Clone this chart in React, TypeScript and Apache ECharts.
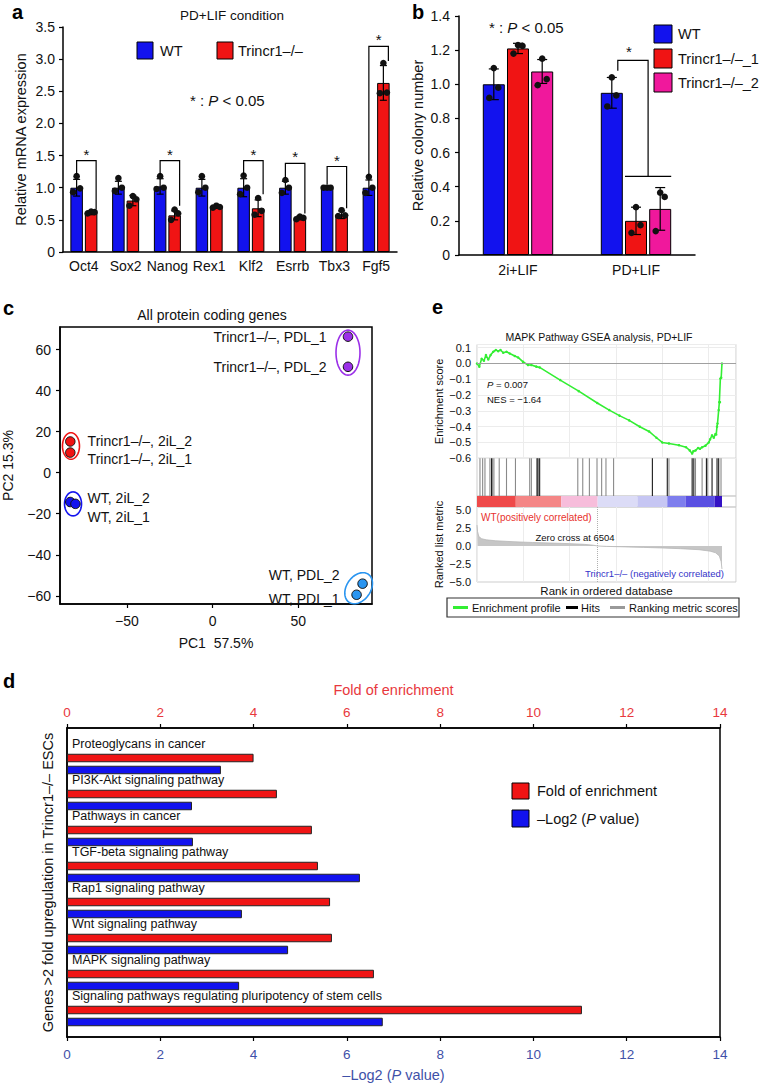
import React, { useEffect, useRef } from 'react';
import * as echarts from 'echarts';

const FONT = "'Liberation Sans', Arial, Helvetica, sans-serif";
const RED = '#f01414';
const BLUE = '#1212ee';
const PINK = '#f0189c';
const INK = '#111111';

// ---------- Panel a ----------
const genesA = ['Oct4', 'Sox2', 'Nanog', 'Rex1', 'Klf2', 'Esrrb', 'Tbx3', 'Fgf5'];
const wtMeanA = [1.0, 1.0, 1.02, 1.0, 1.0, 1.0, 1.0, 1.0];
const koMeanA = [0.61, 0.8, 0.57, 0.7, 0.68, 0.53, 0.58, 2.63];
const wtSdA = [0.13, 0.1, 0.12, 0.13, 0.14, 0.1, 0.01, 0.12];
const koSdA = [0.03, 0.08, 0.07, 0.02, 0.13, 0.03, 0.06, 0.27];
const wtDotsA = [[1.18, 0.99, 0.93], [1.15, 1.0, 0.95], [1.18, 1.0, 0.98], [1.18, 1.0, 0.93], [1.19, 1.0, 0.9], [1.12, 1.0, 0.92], [1.0, 1.0, 1.0], [1.17, 1.0, 0.92]];
const koDotsA = [[0.63, 0.62, 0.6], [0.87, 0.82, 0.72], [0.66, 0.6, 0.5], [0.72, 0.7, 0.69], [0.84, 0.64, 0.58], [0.55, 0.53, 0.51], [0.65, 0.57, 0.56], [2.94, 2.48, 2.47]];
const sigCatA = [0, 2, 4, 5, 6, 7];
const sigTopA = [1.42, 1.42, 1.42, 1.38, 1.33, 3.2];
const sigLeftA = [1.2, 1.2, 1.2, 1.15, 1.05, 1.18];
const sigRightA = [0.66, 0.72, 0.9, 0.6, 0.68, 2.97];

// ---------- Panel b ----------
const conditionsB = ['2i+LIF', 'PD+LIF'];
const wtB = [1.0, 0.95];
const ko1B = [1.21, 0.2];
const ko2B = [1.075, 0.27];
const wtSdB = [0.09, 0.09];
const ko1SdB = [0.03, 0.08];
const ko2SdB = [0.07, 0.125];
const wtDotsB = [[1.095, 0.98, 0.92], [1.04, 0.935, 0.87]];
const ko1DotsB = [[1.23, 1.225, 1.18], [0.28, 0.175, 0.13]];
const ko2DotsB = [[1.15, 1.03, 0.995], [0.365, 0.34, 0.14]];
const sigB = [[1, 1.14, 1.08, 0.46]];

// ---------- Panel c ----------
const pcaKoPdl = [[79, 66.3], [79, 51.6]];
const pcaKo2i = [[-83, 15.2], [-83, 9.8]];
const pcaWt2i = [[-83, -14.3], [-80, -15.2]];
const pcaWtPdl = [[87.5, -54.1], [84, -59.5]];
const pcaLabelText = ['Trincr1–/–, PDL_1', 'Trincr1–/–, PDL_2', 'Trincr1–/–, 2iL_2', 'Trincr1–/–, 2iL_1', 'WT, 2iL_2', 'WT, 2iL_1', 'WT, PDL_2', 'WT, PDL_1'];
const pcaLabelX = [66.5, 66.5, -72.9, -72.9, -72.9, -72.9, 74.1, 74.1];
const pcaLabelY = [66.3, 51.6, 15.2, 6.9, -12.3, -21.6, -50.1, -61.4];
const pcaLabelAlign = ['right', 'right', 'left', 'left', 'left', 'left', 'right', 'right'];
const ellipseCx = [79, -82.6, -81.4, 85.2];
const ellipseCy = [58.5, 13.0, -15.2, -56.3];
const ellipseColor = ['#9b30e8', RED, BLUE, '#2a95f0'];
const ellipseRx = [12, 8.5, 8.5, 17];
const ellipseRy = [22.5, 13.3, 12, 12];
const ellipseRot = [0, 0, 0, -55];

// ---------- Panel e ----------
const esRank = [0, 125, 251, 376, 484, 609, 735, 878, 1021, 1147, 1272, 1416, 1595, 1774, 2043, 2222, 2491, 2760, 2939, 3208, 3387, 4500, 5500, 6500, 7150, 7700, 8225, 8800, 9300, 9700, 10016, 10376, 10914, 11300, 11500, 11629, 11700, 11812, 11950, 12050, 12167, 12350, 12527, 12600, 12704, 12800, 12887, 12930, 12973, 13000, 13064, 13100, 13130, 13155, 13200, 13241];
const esVal = [0, -0.02, 0.03, 0.017, 0.053, 0.025, 0.053, 0.074, 0.085, 0.078, 0.085, 0.068, 0.074, 0.063, 0.047, 0.038, 0.01, -0.01, -0.01, -0.02, -0.025, -0.105, -0.175, -0.25, -0.295, -0.33, -0.36, -0.4, -0.43, -0.47, -0.5, -0.506, -0.517, -0.53, -0.55, -0.57, -0.555, -0.55, -0.535, -0.54, -0.53, -0.52, -0.5, -0.48, -0.454, -0.47, -0.447, -0.45, -0.4, -0.38, -0.295, -0.245, -0.245, -0.095, -0.09, 0];
const hitRank = [161, 305, 430, 699, 788, 842, 914, 1201, 1595, 2079, 2849, 2939, 3244, 3297, 3387, 5448, 5716, 6075, 6487, 6738, 6971, 7383, 9480, 10286, 10376, 11630, 11720, 11810, 12168, 12401, 12473, 12706, 12975, 13064, 13190];
const hitTone = [0, 0, 0, 0, 1, 0, 0, 0, 0, 0, 0, 0, 1, 1, 1, 0, 0, 0, 0, 0, 0, 0, 1, 1, 0, 1, 1, 0, 0, 1, 0, 1, 1, 1, 0];
const cbStart = [0, 2097, 4552, 6523, 8673, 10286, 11271, 12849];
const cbEnd = [2097, 4552, 6523, 8673, 10286, 11271, 12849, 13243];
const cbColor = ['#ef4a4a', '#f48686', '#f7bddb', '#dcdcf7', '#c6c6f3', '#7e7eed', '#5a50e2', '#3412c4'];
const metricRank = [0, 30, 100, 250, 500, 1000, 2000, 3000, 4000, 5000, 5800, 6300, 6504, 7000, 8000, 9000, 10000, 11000, 12000, 12600, 12900, 13100, 13200, 13243];
const metricVal = [2.9, 2.0, 1.3, 1.0, 0.85, 0.72, 0.58, 0.48, 0.4, 0.32, 0.22, 0.1, 0, -0.06, -0.13, -0.2, -0.28, -0.38, -0.52, -0.72, -0.95, -1.4, -2.2, -3.2];
const zeroCross = 6504;

// ---------- Panel d ----------
const pathways = ['Proteoglycans in cancer', 'PI3K-Akt signaling pathway', 'Pathways in cancer', 'TGF-beta signaling pathway', 'Rap1 signaling pathway', 'Wnt signaling pathway', 'MAPK signaling pathway', 'Signaling pathways regulating pluripotency of stem cells'];
const foldEnrichment = [4.0, 4.5, 5.25, 5.38, 5.64, 5.68, 6.58, 11.04];
const negLog2P = [3.3, 2.68, 2.7, 6.28, 3.75, 4.74, 3.69, 6.77];

// ---------- helpers ----------
const offsets = (n: number, w: number, gap: number) => (s: number) => -(n * w + (n - 1) * gap) / 2 + s * (w + gap) + w / 2;
const offA = offsets(2, 12.5, 2);
const offB = offsets(3, 22, 2.2);
const minus = (s: string) => s.replace('-', '−');

function errRenderer(off: (s: number) => number, cap: number) {
  return (params: any, api: any) => {
    const c = api.value(0), s = api.value(1), m = api.value(2), sd = api.value(3);
    const p = api.coord([c, m]);
    const x = p[0] + off(s);
    const yt = api.coord([c, m + sd])[1];
    const yb = api.coord([c, m - sd])[1];
    const st = { stroke: '#000', lineWidth: 1.2 };
    return {
      type: 'group',
      children: [
        { type: 'line', shape: { x1: x, y1: yt, x2: x, y2: yb }, style: st },
        { type: 'line', shape: { x1: x - cap, y1: yt, x2: x + cap, y2: yt }, style: st },
        { type: 'line', shape: { x1: x - cap, y1: yb, x2: x + cap, y2: yb }, style: st },
      ],
    };
  };
}
function dotRenderer(off: (s: number) => number, jit: number[]) {
  return (params: any, api: any) => {
    const c = api.value(0), s = api.value(1), v = api.value(2), j = api.value(3);
    const p = api.coord([c, v]);
    return { type: 'circle', shape: { cx: p[0] + off(s) + jit[j], cy: p[1], r: 3.3 }, style: { fill: INK } };
  };
}
function txtStyle(text: string, size: number, align = 'left', color = INK, extra: any = {}) {
  return {
    text, fill: color, fontSize: size, fontFamily: FONT,
    align, verticalAlign: 'middle', textAlign: align, textVerticalAlign: 'middle', ...extra,
  };
}
function gtext(x: number, y: number, text: string, size: number, align = 'left', color = INK, extra: any = {}) {
  return { type: 'text', x, y, z: 100, style: txtStyle(text, size, align, color, extra) };
}
function grect(x: number, y: number, w: number, h: number, fill: string) {
  return { type: 'rect', z: 100, shape: { x, y, width: w, height: h }, style: { fill, stroke: '#000', lineWidth: 1 } };
}
const italicRich = (size: number, color = INK) => ({ i: { fontStyle: 'italic', fontSize: size, fontFamily: FONT, fill: color, color } });

function buildOption(): any {
  const errA: number[][] = [];
  const dotsA: number[][] = [];
  genesA.forEach((_, i) => {
    errA.push([i, 0, wtMeanA[i], wtSdA[i]], [i, 1, koMeanA[i], koSdA[i]]);
    wtDotsA[i].forEach((v, j) => dotsA.push([i, 0, v, j]));
    koDotsA[i].forEach((v, j) => dotsA.push([i, 1, v, j]));
  });
  const sigA = sigCatA.map((c, k) => [c, sigTopA[k], sigLeftA[k], sigRightA[k]]);

  const errB: number[][] = [];
  const dotsB: number[][] = [];
  conditionsB.forEach((_, i) => {
    errB.push([i, 0, wtB[i], wtSdB[i]], [i, 1, ko1B[i], ko1SdB[i]], [i, 2, ko2B[i], ko2SdB[i]]);
    wtDotsB[i].forEach((v, j) => dotsB.push([i, 0, v, j]));
    ko1DotsB[i].forEach((v, j) => dotsB.push([i, 1, v, j]));
    ko2DotsB[i].forEach((v, j) => dotsB.push([i, 2, v, j]));
  });

  const axisBlack = { show: true, onZero: false, lineStyle: { color: '#000', width: 1.5 } };
  const tickBlack = { show: true, length: 4, lineStyle: { color: '#000', width: 1.2 } };
  const lab = (size: number, margin: number, extra: any = {}) => ({ color: INK, fontSize: size, fontFamily: FONT, margin, ...extra });
  const nameStyle = (size: number, color = INK) => ({ color, fontSize: size, fontFamily: FONT });
  const dec1 = (v: number) => (v === 0 ? '0' : v.toFixed(1));
  const gseaFmt = (v: number) => minus(Math.abs(v) < 1e-9 ? '0.0' : v.toFixed(1));
  const gseaBorder = '#cdcdcd';
  const noLine = { show: false, onZero: false };

  const graphic: any[] = [
    gtext(12, 12, 'a', 20, 'left', '#000', { fontWeight: 'bold' }),
    gtext(412, 12, 'b', 20, 'left', '#000', { fontWeight: 'bold' }),
    gtext(3, 308, 'c', 20, 'left', '#000', { fontWeight: 'bold' }),
    gtext(3, 681, 'd', 20, 'left', '#000', { fontWeight: 'bold' }),
    gtext(432, 307, 'e', 20, 'left', '#000', { fontWeight: 'bold' }),
    gtext(232, 15, 'PD+LIF condition', 13.5, 'center'),
    grect(137, 42, 16, 17, BLUE), gtext(160, 50.5, 'WT', 14.5),
    grect(217, 42, 16, 17, RED), gtext(238, 50.5, 'Trincr1–/–', 14.5),
    gtext(190, 100, '* : {i|P} < 0.05', 15, 'left', INK, { rich: italicRich(15) }),
    grect(654, 25, 18, 18, BLUE), gtext(678, 34, 'WT', 14.5),
    grect(654, 49, 18, 19, RED), gtext(678, 58.5, 'Trincr1–/–_1', 14.5),
    grect(654, 73, 18, 19, PINK), gtext(678, 82.5, 'Trincr1–/–_2', 14.5),
    gtext(489, 27, '* : {i|P} < 0.05', 15, 'left', INK, { rich: italicRich(15) }),
    gtext(212, 315, 'All protein coding genes', 14, 'center'),
    gtext(599, 337, 'MAPK Pathway GSEA analysis, PD+LIF', 10.5, 'center'),
    gtext(487, 384, '{i|P} = 0.007', 9.5, 'left', INK, { rich: italicRich(9.5) }),
    gtext(487, 399, 'NES = −1.64', 9.5),
    gtext(481, 517, 'WT(positively correlated)', 10, 'left', '#e8322e'),
    gtext(575, 537, 'Zero cross at 6504', 9.5, 'center'),
    gtext(724, 573, 'Trincr1–/– (negatively correlated)', 9.5, 'right', '#3434c8'),
    { type: 'rect', z: 100, shape: { x: 447, y: 598, width: 292, height: 19 }, style: { fill: '#fff', stroke: '#333', lineWidth: 1.2 } },
    { type: 'line', z: 101, shape: { x1: 453, y1: 607.5, x2: 468, y2: 607.5 }, style: { stroke: '#33ee33', lineWidth: 3 } },
    gtext(472, 607.5, 'Enrichment profile', 11),
    { type: 'line', z: 101, shape: { x1: 566, y1: 607.5, x2: 578, y2: 607.5 }, style: { stroke: '#000', lineWidth: 3 } },
    gtext(581, 607.5, 'Hits', 11),
    { type: 'line', z: 101, shape: { x1: 610, y1: 607.5, x2: 625, y2: 607.5 }, style: { stroke: '#999', lineWidth: 3 } },
    gtext(629, 607.5, 'Ranking metric scores', 11),
    grect(512, 783, 17, 16, RED), gtext(537, 791, 'Fold of enrichment', 14.5),
    grect(512, 810, 17, 17, BLUE), gtext(537, 818.5, '–Log2 ({i|P} value)', 14.5, 'left', INK, { rich: italicRich(14.5) }),
  ];

  return {
    animation: false,
    backgroundColor: '#fff',
    textStyle: { fontFamily: FONT },
    grid: [
      { left: 63, top: 27, width: 334, height: 225 },
      { left: 459, top: 16, width: 236, height: 239 },
      { left: 60, top: 327, width: 312, height: 277, show: true, borderColor: '#000', borderWidth: 1.5 },
      { left: 477, top: 344.5, width: 259, height: 113.8, show: true, borderColor: gseaBorder, borderWidth: 1 },
      { left: 477, top: 458.3, width: 259, height: 37.7, show: true, borderColor: gseaBorder, borderWidth: 1 },
      { left: 477, top: 496, width: 259, height: 11, show: true, borderColor: gseaBorder, borderWidth: 1 },
      { left: 477, top: 507, width: 259, height: 75, show: true, borderColor: gseaBorder, borderWidth: 1 },
      { left: 67, top: 728, width: 653, height: 311, show: true, borderColor: '#000', borderWidth: 1.5 },
      { left: 67, top: 746, width: 653, height: 288 },
    ],
    xAxis: [
      { gridIndex: 0, type: 'category', data: genesA, axisLine: axisBlack, axisTick: { show: false }, axisLabel: lab(14, 7, { interval: 0 }) },
      { gridIndex: 1, type: 'category', data: conditionsB, axisLine: axisBlack, axisTick: { show: false }, axisLabel: lab(14, 8) },
      {
        gridIndex: 2, type: 'value', min: -89, max: 93, axisLine: axisBlack,
        axisTick: { ...tickBlack, customValues: [-50, 0, 50] },
        axisLabel: lab(14, 10, { customValues: [-50, 0, 50], formatter: (v: number) => minus(String(v)) }),
        splitLine: { show: false }, name: 'PC1  57.5%', nameLocation: 'middle', nameGap: 32, nameTextStyle: nameStyle(14),
      },
      { gridIndex: 3, type: 'value', min: 0, max: 14000, interval: 2500, axisLine: noLine, axisTick: { show: false }, axisLabel: { show: false }, splitLine: { show: true, lineStyle: { color: '#ececec' } } },
      { gridIndex: 4, type: 'value', min: 0, max: 14000, show: false },
      { gridIndex: 5, type: 'value', min: 0, max: 14000, show: false },
      {
        gridIndex: 6, type: 'value', min: 0, max: 14000, interval: 2500, axisLine: noLine, axisTick: { show: false }, axisLabel: { show: false },
        splitLine: { show: true, lineStyle: { color: '#ececec' } },
        name: 'Rank in ordered database', nameLocation: 'middle', nameGap: 3, nameTextStyle: nameStyle(11.5),
      },
      {
        gridIndex: 7, type: 'value', position: 'top', min: 0, max: 14, interval: 2, axisLine: axisBlack, axisTick: tickBlack,
        axisLabel: lab(13.5, 9, { color: '#e8383d' }), splitLine: { show: false },
        name: 'Fold of enrichment', nameLocation: 'middle', nameGap: 31, nameTextStyle: nameStyle(14.5, '#e8383d'),
      },
      {
        gridIndex: 7, type: 'value', position: 'bottom', min: 0, max: 14, interval: 2, axisLine: axisBlack, axisTick: tickBlack,
        axisLabel: lab(13.5, 10, { color: '#3f51a8' }), splitLine: { show: false },
        name: '–Log2 ({i|P} value)', nameLocation: 'middle', nameGap: 30,
        nameTextStyle: { ...nameStyle(14.5, '#3f51a8'), rich: { i: { fontStyle: 'italic', fontSize: 14.5, fontFamily: FONT, color: '#3f51a8' } } },
      },
      { gridIndex: 8, type: 'value', min: 0, max: 14, show: false },
    ],
    yAxis: [
      {
        gridIndex: 0, type: 'value', min: 0, max: 3.5, interval: 0.5, axisLine: axisBlack, axisTick: tickBlack,
        axisLabel: lab(14, 8, { formatter: dec1 }), splitLine: { show: false },
        name: 'Relative mRNA expression', nameLocation: 'middle', nameGap: 35, nameTextStyle: nameStyle(14.5),
      },
      {
        gridIndex: 1, type: 'value', min: 0, max: 1.4, interval: 0.2, axisLine: axisBlack, axisTick: tickBlack,
        axisLabel: lab(14, 9, { formatter: dec1 }), splitLine: { show: false },
        name: 'Relative colony number', nameLocation: 'middle', nameGap: 34, nameTextStyle: nameStyle(14.5),
      },
      {
        gridIndex: 2, type: 'value', min: -64, max: 71, axisLine: axisBlack,
        axisTick: { ...tickBlack, customValues: [-60, -40, -20, 0, 20, 40, 60] },
        axisLabel: lab(14, 9, { customValues: [-60, -40, -20, 0, 20, 40, 60], formatter: (v: number) => minus(String(v)) }),
        splitLine: { show: false }, name: 'PC2 15.3%', nameLocation: 'middle', nameGap: 45, nameTextStyle: nameStyle(14),
      },
      {
        gridIndex: 3, type: 'value', min: -0.6, max: 0.12, interval: 0.1, axisLine: noLine, axisTick: { show: false },
        axisLabel: lab(11, 6, { customValues: [-0.6, -0.5, -0.4, -0.3, -0.2, -0.1, 0, 0.1], formatter: gseaFmt }),
        splitLine: { show: true, lineStyle: { color: '#ececec' } },
        name: 'Enrichment score', nameLocation: 'middle', nameGap: 33, nameTextStyle: nameStyle(11),
      },
      { gridIndex: 4, type: 'value', min: 0, max: 1, show: false },
      { gridIndex: 5, type: 'value', min: 0, max: 1, show: false },
      {
        gridIndex: 6, type: 'value', min: -5, max: 5.4, axisLine: noLine, axisTick: { show: false },
        axisLabel: lab(11, 6, { customValues: [-5, -2.5, 0, 2.5, 5], formatter: gseaFmt }),
        splitLine: { show: false },
        name: 'Ranked list metric', nameLocation: 'middle', nameGap: 33, nameTextStyle: nameStyle(11),
      },
      {
        gridIndex: 7, type: 'value', min: 0, max: 1, axisLine: axisBlack, axisTick: { show: false }, axisLabel: { show: false }, splitLine: { show: false },
        name: 'Genes >2 fold upregulation in Trincr1–/– ESCs', nameLocation: 'middle', nameGap: 12, nameTextStyle: nameStyle(14.5),
      },
      { gridIndex: 8, type: 'category', data: pathways, inverse: true, show: false },
    ],
    series: [
      // ---- a
      { type: 'bar', name: 'WT', xAxisIndex: 0, yAxisIndex: 0, data: wtMeanA, barWidth: 12.5, barGap: '16%', itemStyle: { color: BLUE, borderColor: '#000', borderWidth: 1 } },
      { type: 'bar', name: 'Trincr1–/–', xAxisIndex: 0, yAxisIndex: 0, data: koMeanA, barWidth: 12.5, barGap: '16%', itemStyle: { color: RED, borderColor: '#000', borderWidth: 1 } },
      { type: 'custom', xAxisIndex: 0, yAxisIndex: 0, z: 3, data: errA, encode: { x: 0, y: 2 }, renderItem: errRenderer(offA, 3.5) },
      { type: 'custom', xAxisIndex: 0, yAxisIndex: 0, z: 4, data: dotsA, encode: { x: 0, y: 2 }, renderItem: dotRenderer(offA, [0, 3.5, -3.5]) },
      {
        type: 'custom', xAxisIndex: 0, yAxisIndex: 0, z: 4, data: sigA, encode: { x: 0, y: 1 },
        renderItem: (params: any, api: any) => {
          const c = api.value(0);
          const p = api.coord([c, api.value(1)]);
          const xl = p[0] + offA(0), xr = p[0] + offA(1) + 5;
          const yl = api.coord([c, api.value(2)])[1], yr = api.coord([c, api.value(3)])[1];
          return {
            type: 'group', children: [
              { type: 'polyline', shape: { points: [[xl, yl], [xl, p[1]], [xr, p[1]], [xr, yr]] }, style: { stroke: '#000', lineWidth: 1.2, fill: 'none' } },
              { type: 'text', x: (xl + xr) / 2, y: p[1] + 1, style: { text: '*', fontSize: 15, fontFamily: FONT, fill: INK, align: 'center', verticalAlign: 'bottom', textAlign: 'center', textVerticalAlign: 'bottom' } },
            ],
          };
        },
      },
      // ---- b
      { type: 'bar', name: 'WT', xAxisIndex: 1, yAxisIndex: 1, data: wtB, barWidth: 22, barGap: '10%', itemStyle: { color: BLUE, borderColor: '#000', borderWidth: 1 } },
      { type: 'bar', name: 'Trincr1–/–_1', xAxisIndex: 1, yAxisIndex: 1, data: ko1B, barWidth: 22, barGap: '10%', itemStyle: { color: RED, borderColor: '#000', borderWidth: 1 } },
      { type: 'bar', name: 'Trincr1–/–_2', xAxisIndex: 1, yAxisIndex: 1, data: ko2B, barWidth: 22, barGap: '10%', itemStyle: { color: PINK, borderColor: '#000', borderWidth: 1 } },
      { type: 'custom', xAxisIndex: 1, yAxisIndex: 1, z: 3, data: errB, encode: { x: 0, y: 2 }, renderItem: errRenderer(offB, 5) },
      { type: 'custom', xAxisIndex: 1, yAxisIndex: 1, z: 4, data: dotsB, encode: { x: 0, y: 2 }, renderItem: dotRenderer(offB, [0, 4.5, -4.5]) },
      {
        type: 'custom', xAxisIndex: 1, yAxisIndex: 1, z: 4, data: sigB, encode: { x: 0, y: 1 },
        renderItem: (params: any, api: any) => {
          const c = api.value(0);
          const p = api.coord([c, api.value(1)]);
          const xl = p[0] + offB(0) + 6;
          const xm = p[0] + (offB(1) + offB(2)) / 2;
          const yl = api.coord([c, api.value(2)])[1];
          const yd = api.coord([c, api.value(3)])[1];
          const x0 = p[0] + offB(1) - 11, x1 = p[0] + offB(2) + 11;
          const st = { stroke: '#000', lineWidth: 1.2, fill: 'none' };
          return {
            type: 'group', children: [
              { type: 'polyline', shape: { points: [[xl, yl], [xl, p[1]], [xm, p[1]], [xm, yd]] }, style: st },
              { type: 'line', shape: { x1: x0, y1: yd, x2: x1, y2: yd }, style: st },
              { type: 'text', x: (xl + xm) / 2 - 4, y: p[1] - 1, style: { text: '*', fontSize: 15, fontFamily: FONT, fill: INK, align: 'center', verticalAlign: 'bottom', textAlign: 'center', textVerticalAlign: 'bottom' } },
            ],
          };
        },
      },
      // ---- c
      ...[[pcaKoPdl, '#9b30e8'], [pcaKo2i, RED], [pcaWt2i, BLUE], [pcaWtPdl, '#2a95f0']].map(([d, col]: any) => ({
        type: 'scatter', xAxisIndex: 2, yAxisIndex: 2, data: d, symbolSize: 9.5, z: 4,
        itemStyle: { color: col, borderColor: '#111', borderWidth: 1, opacity: 1 },
      })),
      {
        type: 'custom', xAxisIndex: 2, yAxisIndex: 2, z: 3, data: ellipseCx.map((x, i) => [x, ellipseCy[i]]),
        renderItem: (params: any, api: any) => {
          const i = params.dataIndex;
          const p = api.coord([api.value(0), api.value(1)]);
          const t = (ellipseRot[i] * Math.PI) / 180;
          const pts: number[][] = [];
          for (let k = 0; k < 60; k++) {
            const a = (k / 60) * Math.PI * 2;
            const ex = ellipseRx[i] * Math.cos(a), ey = ellipseRy[i] * Math.sin(a);
            pts.push([p[0] + ex * Math.cos(t) - ey * Math.sin(t), p[1] + ex * Math.sin(t) + ey * Math.cos(t)]);
          }
          return { type: 'polygon', shape: { points: pts }, style: { fill: 'none', stroke: ellipseColor[i], lineWidth: 1.6 } };
        },
      },
      {
        type: 'custom', xAxisIndex: 2, yAxisIndex: 2, z: 5, data: pcaLabelX.map((x, i) => [x, pcaLabelY[i]]),
        renderItem: (params: any, api: any) => {
          const i = params.dataIndex;
          const p = api.coord([api.value(0), api.value(1)]);
          return { type: 'text', x: p[0], y: p[1], style: txtStyle(pcaLabelText[i], 14, pcaLabelAlign[i]) };
        },
      },
      // ---- e
      {
        type: 'line', xAxisIndex: 3, yAxisIndex: 3, data: esRank.map((r, i) => [r, esVal[i]]), z: 4,
        showSymbol: true, symbol: 'circle', symbolSize: 2.5, lineStyle: { color: '#33ee33', width: 1.6 }, itemStyle: { color: '#33ee33' },
        markLine: { silent: true, symbol: ['none', 'none'], label: { show: false }, lineStyle: { color: '#a0a0a0', width: 1, type: 'solid' }, data: [{ yAxis: 0 }] },
      },
      {
        type: 'custom', xAxisIndex: 4, yAxisIndex: 4, data: hitRank.map((r, i) => [r, hitTone[i]]),
        renderItem: (params: any, api: any) => {
          const a = api.coord([api.value(0), 0]);
          const b = api.coord([api.value(0), 1]);
          return { type: 'line', shape: { x1: a[0], y1: a[1], x2: b[0], y2: b[1] }, style: { stroke: api.value(1) ? '#1a1a1a' : '#8a8a8a', lineWidth: 1.1 } };
        },
      },
      {
        type: 'custom', xAxisIndex: 5, yAxisIndex: 5, data: cbStart.map((s, i) => [s, cbEnd[i]]),
        renderItem: (params: any, api: any) => {
          const a = api.coord([api.value(0), 1]);
          const b = api.coord([api.value(1), 0]);
          return { type: 'rect', shape: { x: a[0], y: a[1], width: b[0] - a[0], height: b[1] - a[1] }, style: { fill: cbColor[params.dataIndex] } };
        },
      },
      {
        type: 'line', xAxisIndex: 6, yAxisIndex: 6, data: metricRank.map((r, i) => [r, metricVal[i]]), symbol: 'none', z: 3,
        lineStyle: { color: '#b8b8b8', width: 0.8 }, areaStyle: { color: '#c6c6c6', opacity: 1 },
        markLine: { silent: true, symbol: ['none', 'none'], label: { show: false }, lineStyle: { color: '#b0b0b0', width: 1, type: 'dotted' }, data: [{ xAxis: zeroCross }] },
      },
      // ---- d
      { type: 'bar', name: 'Fold of enrichment', xAxisIndex: 9, yAxisIndex: 8, data: foldEnrichment, barWidth: 8.5, barGap: '41%', itemStyle: { color: RED, borderColor: '#222', borderWidth: 1 } },
      { type: 'bar', name: '–Log2 (P value)', xAxisIndex: 9, yAxisIndex: 8, data: negLog2P, barWidth: 8.5, barGap: '41%', itemStyle: { color: BLUE, borderColor: '#222', borderWidth: 1 } },
      {
        type: 'custom', xAxisIndex: 9, yAxisIndex: 8, z: 5, data: pathways.map((_, i) => [0, i]), encode: { x: 0, y: 1 },
        renderItem: (params: any, api: any) => {
          const p = api.coord([0, api.value(1)]);
          return { type: 'text', x: p[0] + 5, y: p[1] - 20, style: txtStyle(pathways[params.dataIndex], 12.5) };
        },
      },
    ],
    graphic,
  };
}

export default function App() {
  const ref = useRef<HTMLDivElement>(null);
  useEffect(() => {
    document.body.style.margin = '0';
    const chart = echarts.init(ref.current as HTMLDivElement, null, { renderer: 'svg' });
    chart.setOption(buildOption());
    return () => chart.dispose();
  }, []);
  return <div ref={ref} style={{ width: 759, height: 1083 }} />;
}
